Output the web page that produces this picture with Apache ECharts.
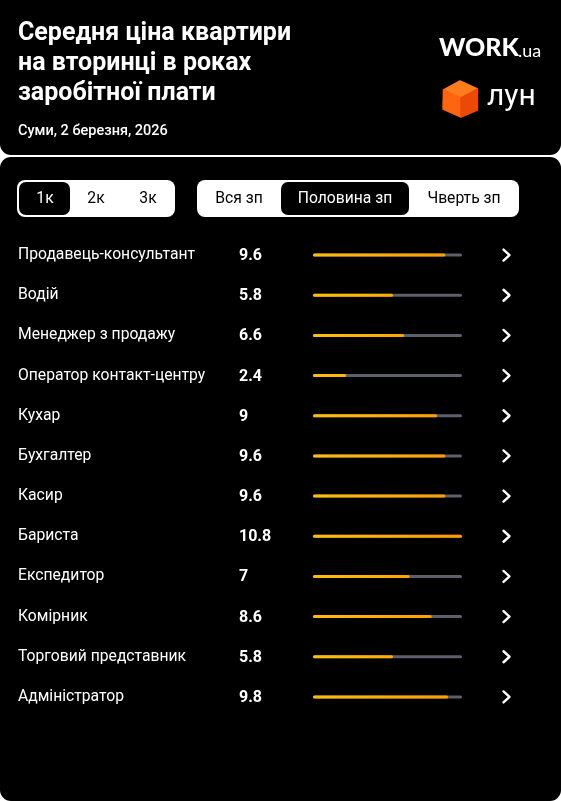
<!DOCTYPE html>
<html>
<head>
<meta charset="utf-8">
<script src="https://cdn.jsdelivr.net/npm/echarts@6/dist/echarts.min.js"></script>
<style>
html,body{margin:0;padding:0;background:#ffffff;}
#chart{width:561px;height:801px;}
</style>
</head>
<body>
<div id="chart"></div>
<script>
const titleLines = ['Середня ціна квартири', 'на вторинці в роках', 'заробітної плати'];
const subtitle = 'Суми, 2 березня, 2026';
const roomOptions = ['1к', '2к', '3к'];
const salaryOptions = ['Вся зп', 'Половина зп', 'Чверть зп'];
const categories = ['Продавець-консультант', 'Водій', 'Менеджер з продажу', 'Оператор контакт-центру', 'Кухар', 'Бухгалтер', 'Касир', 'Бариста', 'Експедитор', 'Комірник', 'Торговий представник', 'Адміністратор'];
const values = [9.6, 5.8, 6.6, 2.4, 9, 9.6, 9.6, 10.8, 7, 8.6, 5.8, 9.8];
const xMax = 10.8;

const chart = echarts.init(document.getElementById('chart'), null, {renderer: 'canvas'});

const FONT = 'Roboto, "Noto Sans", sans-serif';

function text(t, x, y, size, weight, fill, align, family) {
  return {type: 'text', x: x, y: y, silent: true, style: {text: t, fill: fill, align: align || 'left', verticalAlign: 'middle', font: (weight || 'normal') + ' ' + size + 'px ' + (family || FONT)}};
}

const graphics = [
  {type: 'rect', shape: {x: 0, y: 0, width: 561, height: 155, r: [0, 0, 11, 11]}, style: {fill: '#000000'}, z: 0},
  {type: 'rect', shape: {x: 0, y: 157, width: 561, height: 644, r: [11, 11, 11, 11]}, style: {fill: '#000000'}, z: 0}
];
titleLines.forEach((t, i) => graphics.push(text(t, 18, 33.5 + i * 30, 25, 'bold', '#ffffff')));
graphics.push(text(subtitle, 18, 131.5, 14.5, '500', '#ffffff'));

// WORK.ua logo
graphics.push(text('WORK', 439, 48, 25, '900', '#ffffff', 'left', 'Lato, Roboto, sans-serif'));
graphics.push(text('.ua', 518, 51.5, 18, 'normal', '#ffffff', 'left', 'Lato, Roboto, sans-serif'));
// cube
graphics.push({type: 'polygon', shape: {points: [[460, 81], [477.5, 89], [461, 98], [443.5, 90]]}, style: {fill: '#ff7d1c', stroke: '#ff7d1c', lineWidth: 1.5, lineJoin: 'round'}});
graphics.push({type: 'polygon', shape: {points: [[443.5, 90], [461, 98], [461, 117], [443, 109]]}, style: {fill: '#ff6410', stroke: '#ff6410', lineWidth: 1.5, lineJoin: 'round'}});
graphics.push({type: 'polygon', shape: {points: [[461, 98], [477.5, 89], [477.5, 110], [461, 117]]}, style: {fill: '#ea4a06', stroke: '#ea4a06', lineWidth: 1.5, lineJoin: 'round'}});
graphics.push(text('лун', 487, 97, 30, 'normal', '#ffffff'));

// button groups
graphics.push({type: 'rect', shape: {x: 17, y: 180, width: 158, height: 37, r: 8}, style: {fill: '#ffffff'}});
graphics.push({type: 'rect', shape: {x: 19, y: 182, width: 51, height: 33, r: 7}, style: {fill: '#000000'}});
const roomX = [45, 96, 148];
roomOptions.forEach((t, i) => graphics.push(text(t, roomX[i], 199, 15.7, 'normal', i === 0 ? '#ffffff' : '#000000', 'center')));
graphics.push({type: 'rect', shape: {x: 197, y: 180, width: 322, height: 37, r: 8}, style: {fill: '#ffffff'}});
graphics.push({type: 'rect', shape: {x: 281, y: 182, width: 128, height: 33, r: 7}, style: {fill: '#000000'}});
const salX = [239, 345, 464];
salaryOptions.forEach((t, i) => graphics.push(text(t, salX[i], 199, 15.7, 'normal', i === 1 ? '#ffffff' : '#000000', 'center')));

const option = {
  backgroundColor: 'transparent',
  animation: false,
  graphic: {elements: graphics},
  grid: {left: 313, right: 99, top: 235, height: 482, containLabel: false},
  xAxis: {type: 'value', min: 0, max: xMax, show: false},
  yAxis: {
    type: 'category', data: categories, inverse: true,
    axisLine: {show: false}, axisTick: {show: false}, splitLine: {show: false},
    axisLabel: {align: 'left', margin: 295, color: '#ffffff', fontSize: 15.7, fontFamily: FONT, padding: [2, 0, 0, 0]}
  },
  series: [
    {
      type: 'bar', data: values, barWidth: 3, z: 5,
      showBackground: true,
      backgroundStyle: {color: '#5c606c', borderRadius: 2},
      itemStyle: {
        borderRadius: 2,
        color: new echarts.graphic.LinearGradient(313, 0, 462, 0, [
          {offset: 0, color: '#ffbe0a'},
          {offset: 1, color: '#ff9800'}
        ], true)
      },
      label: {
        show: true, position: [-74, 2.5], align: 'left', verticalAlign: 'middle',
        color: '#ffffff', fontSize: 16, fontWeight: 'bold', fontFamily: FONT,
        formatter: p => String(p.value)
      }
    },
    {
      type: 'custom', z: 6,
      data: categories.map((c, i) => [xMax, i]),
      encode: {x: 0, y: 1},
      renderItem: function (params, api) {
        const p = api.coord([api.value(0), api.value(1)]);
        const cx = p[0] + 45;
        const cy = p[1];
        return {
          type: 'polyline',
          shape: {points: [[cx - 3.5, cy - 5.5], [cx + 2.5, cy], [cx - 3.5, cy + 5.5]]},
          style: {stroke: '#ffffff', lineWidth: 2.4, fill: null, lineCap: 'round', lineJoin: 'round'}
        };
      }
    }
  ]
};
chart.setOption(option);
</script>
</body>
</html>
